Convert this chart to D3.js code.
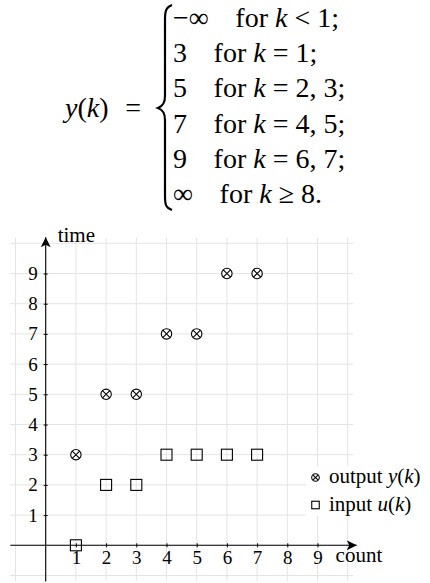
<!DOCTYPE html>
<html>
<head>
<meta charset="utf-8">
<script src="https://cdn.jsdelivr.net/npm/d3@7"></script>
<style>
  body { margin: 0; background: #fff; }
  svg { display: block; font-family: "Liberation Serif", "DejaVu Serif", serif; }
</style>
</head>
<body>
<div id="canvas"></div>
<script>
/* Data */
const COUNTS = [1, 2, 3, 4, 5, 6, 7]
const OUTPUT_Y = [3, 5, 5, 7, 7, 9, 9]
const INPUT_U = [0, 2, 2, 3, 3, 3, 3]
const X_TICKS = [1, 2, 3, 4, 5, 6, 7, 8, 9]
const Y_TICKS = [1, 2, 3, 4, 5, 6, 7, 8, 9]
const CASE_VALUES = ["\u2212\u221E", "3", "5", "7", "9", "\u221E"]
const CASE_RELS = ["<", "=", "=", "=", "=", "\u2265"]
const CASE_RHS = ["1;", "1;", "2, 3;", "4, 5;", "6, 7;", "8."]

/* Constants */
const WIDTH = 430
const HEIGHT = 583
const GRID_COLOR = "#e4e4e4"

const svg = d3.select("#canvas").append("svg")
  .attr("width", WIDTH)
  .attr("height", HEIGHT);

/* Formula */
const formula = svg.append("g").style("font-size", "28px");
const lhs = formula.append("text").attr("x", 65).attr("y", 117);
lhs.append("tspan").style("font-style", "italic").text("y");
lhs.append("tspan").text("(");
lhs.append("tspan").style("font-style", "italic").text("k");
lhs.append("tspan").text(")");
formula.append("text").attr("x", 141).attr("y", 117).attr("text-anchor", "end").text("=");

formula.append("path")
  .attr("d", "M172,5 C166,7 165,11 165,20 L165,96 C165,103 163,106 158,108 C163,110 165,113 165,120 L165,196 C165,205 166,208 172,210")
  .attr("fill", "none")
  .attr("stroke", "#000")
  .attr("stroke-width", 2.2);

CASE_VALUES.forEach((v, i) => {
  const t = formula.append("text")
    .attr("x", 173)
    .attr("y", 27 + i * 35.2);
  t.append("tspan").text(v);
  t.append("tspan").attr("dx", "0.95em").text("for ");
  t.append("tspan").style("font-style", "italic").text("k");
  t.append("tspan").attr("dx", "0.25em").text(CASE_RELS[i]);
  t.append("tspan").attr("dx", "0.25em").text(CASE_RHS[i]);
});

/* Chart scales */
const x = d3.scaleLinear().domain([-1, 10]).range([15.5, 347.7]);
const y = d3.scaleLinear().domain([-1, 10]).range([575.5, 243.3]);
const EXT = 0.18;

/* Grid */
const grid = svg.append("g").attr("stroke", GRID_COLOR).attr("stroke-width", 1);
grid.selectAll("line.v")
  .data(d3.range(-1, 11))
  .enter().append("line")
  .attr("x1", d => x(d)).attr("x2", d => x(d))
  .attr("y1", y(-1 - EXT)).attr("y2", y(10 + EXT));
grid.selectAll("line.h")
  .data(d3.range(-1, 11))
  .enter().append("line")
  .attr("y1", d => y(d)).attr("y2", d => y(d))
  .attr("x1", x(-1 - EXT)).attr("x2", x(10 + EXT));

/* Axes */
svg.append("defs").append("marker")
  .attr("id", "arrow")
  .attr("viewBox", "0 0 10 10")
  .attr("refX", 10).attr("refY", 5)
  .attr("markerWidth", 10).attr("markerHeight", 10)
  .attr("markerUnits", "userSpaceOnUse")
  .attr("orient", "auto")
  .append("path")
  .attr("d", "M0,0 L10,5 L0,10 L2.5,5 Z")
  .attr("fill", "#000");

const xAxis = d3.axisBottom(x).tickValues(X_TICKS).tickSize(2).tickPadding(3);
const yAxis = d3.axisLeft(y).tickValues(Y_TICKS).tickSize(2).tickPadding(6);

const gx = svg.append("g").attr("transform", "translate(0," + y(0) + ")").call(xAxis);
const gy = svg.append("g").attr("transform", "translate(" + x(0) + ",0)").call(yAxis);
[gx, gy].forEach(g => {
  g.select(".domain").remove();
  g.selectAll(".tick line").attr("stroke", "#000").attr("y1", g === gx ? -2 : null).attr("x1", g === gy ? 2 : null);
  g.selectAll(".tick text")
    .attr("fill", "#000")
    .style("font-family", "'Liberation Serif', serif")
    .style("font-size", "19px");
});

svg.append("line")
  .attr("x1", x(-1.17)).attr("x2", x(10.3))
  .attr("y1", y(0)).attr("y2", y(0))
  .attr("stroke", "#000").attr("stroke-width", 1.1)
  .attr("marker-end", "url(#arrow)");
svg.append("line")
  .attr("x1", x(0)).attr("x2", x(0))
  .attr("y1", y(-1.2)).attr("y2", y(10.2))
  .attr("stroke", "#000").attr("stroke-width", 1.1)
  .attr("marker-end", "url(#arrow)");

svg.append("text").attr("x", x(0) + 12).attr("y", y(10.2) + 5)
  .style("font-size", "21px").text("time");
svg.append("text").attr("x", x(9.6)).attr("y", y(-0.55))
  .style("font-size", "21px").text("count");

/* Markers */
const otimes = (g, cx, cy, r) => {
  g.append("circle").attr("cx", cx).attr("cy", cy).attr("r", r)
    .attr("fill", "#fff").attr("stroke", "#000").attr("stroke-width", 1.1);
  const d = r * Math.SQRT1_2;
  g.append("path")
    .attr("d", `M${cx - d},${cy - d}L${cx + d},${cy + d}M${cx - d},${cy + d}L${cx + d},${cy - d}`)
    .attr("stroke", "#000").attr("stroke-width", 1.1);
};
const square = (g, cx, cy, s) => {
  g.append("rect").attr("x", cx - s / 2).attr("y", cy - s / 2)
    .attr("width", s).attr("height", s)
    .attr("fill", "none").attr("stroke", "#000").attr("stroke-width", 1.1);
};

const marks = svg.append("g");
COUNTS.forEach((k, i) => square(marks, x(k), y(INPUT_U[i]), 11));
COUNTS.forEach((k, i) => otimes(marks, x(k), y(OUTPUT_Y[i]), 5.2));

/* Legend */
const legend = svg.append("g").style("font-size", "21px");
legend.append("rect").attr("x", 306).attr("y", 466).attr("width", 124).attr("height", 50).attr("fill", "#fff");
otimes(legend, 315.5, 477.5, 3.8);
square(legend, 315.5, 505, 7.5);
const l1 = legend.append("text").attr("x", 329).attr("y", 483);
l1.append("tspan").text("output ");
l1.append("tspan").style("font-style", "italic").text("y");
l1.append("tspan").text("(");
l1.append("tspan").style("font-style", "italic").text("k");
l1.append("tspan").text(")");
const l2 = legend.append("text").attr("x", 329).attr("y", 511);
l2.append("tspan").text("input ");
l2.append("tspan").style("font-style", "italic").text("u");
l2.append("tspan").text("(");
l2.append("tspan").style("font-style", "italic").text("k");
l2.append("tspan").text(")");
</script>
</body>
</html>
